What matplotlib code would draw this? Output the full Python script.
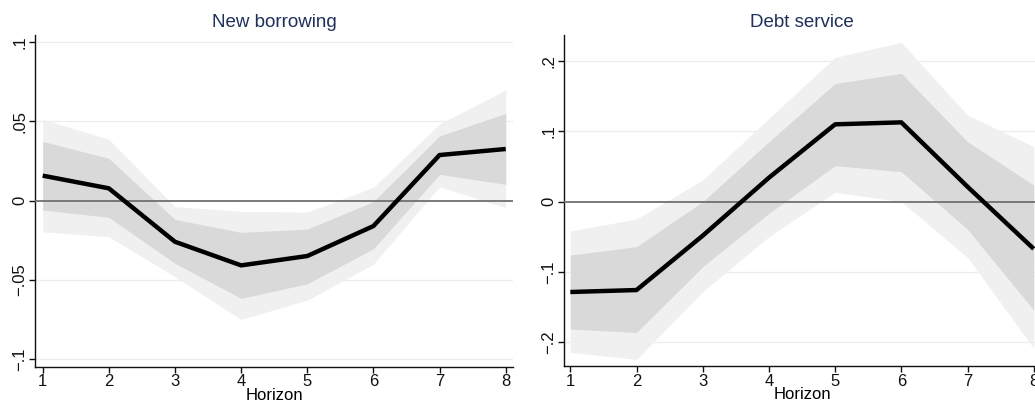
import numpy as np
import matplotlib
matplotlib.use("Agg")
import matplotlib.pyplot as plt

plt.rcParams['font.family'] = ['Liberation Sans', 'DejaVu Sans']

horizon = [1, 2, 3, 4, 5, 6, 7, 8]

# New borrowing
nb_mean = [0.0158, 0.0078, -0.0259, -0.0408, -0.0349, -0.0160, 0.0288, 0.0326]
nb_in_hi = [0.0374, 0.0267, -0.0118, -0.0200, -0.0179, -0.0006, 0.0408, 0.0551]
nb_in_lo = [-0.0059, -0.0105, -0.0395, -0.0616, -0.0524, -0.0303, 0.0166, 0.0103]
nb_out_hi = [0.0515, 0.0387, -0.0038, -0.0067, -0.0072, 0.0084, 0.0484, 0.0698]
nb_out_lo = [-0.0196, -0.0227, -0.0480, -0.0749, -0.0627, -0.0400, 0.0088, -0.0044]

# Debt service
ds_mean = [-0.1284, -0.1256, -0.0483, 0.0341, 0.1100, 0.1128, 0.0213, -0.0670]
ds_in_hi = [-0.0758, -0.0640, 0.0000, 0.0853, 0.1680, 0.1825, 0.0853, 0.0237]
ds_in_lo = [-0.1810, -0.1860, -0.0924, -0.0166, 0.0512, 0.0427, -0.0393, -0.1540]
ds_out_hi = [-0.0417, -0.0246, 0.0308, 0.1185, 0.2052, 0.2265, 0.1232, 0.0782]
ds_out_lo = [-0.2142, -0.2242, -0.1280, -0.0498, 0.0133, 0.0000, -0.0791, -0.2085]

W, H = 1035, 407
fig = plt.figure(figsize=(W / 100, H / 100), dpi=100)

title_color = "#1e2f5a"
grid_color = "#e8efef"


def panel(rect, title, mean, in_lo, in_hi, out_lo, out_hi, xlim, ylim, yticks, ylabels):
    l, t, r, b = rect
    ax = fig.add_axes([l / W, (H - b) / H, (r - l) / W, (b - t) / H])
    ax.fill_between(horizon, out_lo, out_hi, color="#f0f0f0", lw=0, zorder=1)
    ax.fill_between(horizon, in_lo, in_hi, color="#d9d9d9", lw=0, zorder=2)
    ax.axhline(0, color="#707070", lw=1.3, zorder=3)
    ax.plot(horizon, mean, color="black", lw=3.2, zorder=4, solid_capstyle="butt")
    ax.set_xlim(*xlim)
    ax.set_ylim(*ylim)
    ax.set_xticks(horizon)
    ax.set_yticks(yticks)
    ax.set_yticklabels(ylabels, rotation=90, va="center")
    for y in yticks:
        if y != 0:
            ax.axhline(y, color=grid_color, lw=0.9, zorder=0)
    for s in ("top", "right"):
        ax.spines[s].set_visible(False)
    for s in ("left", "bottom"):
        ax.spines[s].set_linewidth(1.0)
        ax.spines[s].set_color("#111111")
    ax.tick_params(axis="both", direction="out", length=4, width=1, labelsize=12,
                   colors="#111111", pad=1.5)
    ax.set_xlabel("Horizon", fontsize=12, labelpad=-1)
    ax.set_title(title, color=title_color, fontsize=13.5, pad=6)
    return ax


panel((35, 35, 513, 366.7), "New borrowing", nb_mean, nb_in_lo, nb_in_hi, nb_out_lo, nb_out_hi,
      (0.884, 8.11), (-0.1047, 0.1045), [-0.1, -0.05, 0, 0.05, 0.1],
      ["\u2212.1", "\u2212.05", "0", ".05", ".1"])
panel((563.7, 35, 1041, 366), "Debt service", ds_mean, ds_in_lo, ds_in_hi, ds_out_lo, ds_out_hi,
      (0.90, 8.11), (-0.2336, 0.237), [-0.2, -0.1, 0, 0.1, 0.2],
      ["\u2212.2", "\u2212.1", "0", ".1", ".2"])

fig.savefig("out.png", dpi=100)
